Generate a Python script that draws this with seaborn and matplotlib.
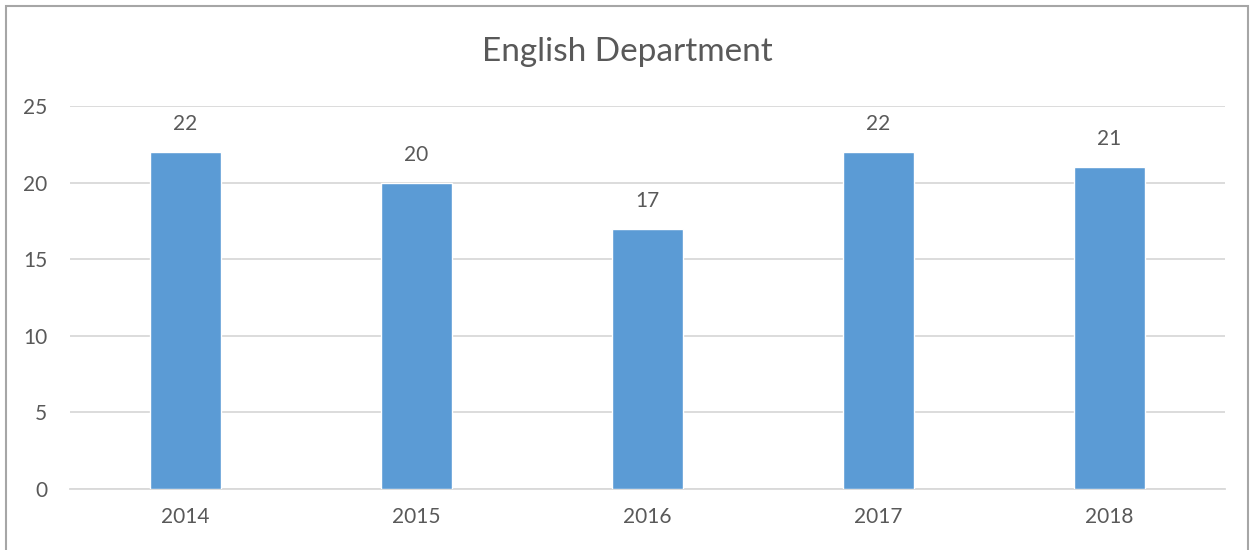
import matplotlib.pyplot as plt
import pandas as pd
import seaborn as sns
from matplotlib.patches import Rectangle

years = ["2014", "2015", "2016", "2017", "2018"]
counts = [22, 20, 17, 22, 21]
title = "English Department"

bar_color = "#5B9BD5"
text_color = "#595959"
grid_color = "#D9D9D9"

sns.set_theme(style="white")
plt.rcParams["font.family"] = ["Lato", "DejaVu Sans"]

df = pd.DataFrame({"year": years, "count": counts})

fig = plt.figure(figsize=(12.54, 5.5), dpi=100)
ax = fig.add_axes([70 / 1254, 1 - 489 / 550, (1225 - 70) / 1254, (489 - 106) / 550])

sns.barplot(data=df, x="year", y="count", color=bar_color, width=0.31,
            saturation=1, ax=ax, zorder=3)

ax.set_ylim(0, 25)
ax.set_yticks([0, 5, 10, 15, 20, 25])
ax.set_xlim(-0.5, len(years) - 0.5)
ax.yaxis.grid(True, color=grid_color, linewidth=1.3, zorder=0)
ax.set_axisbelow(True)
for side in ["top", "right", "left"]:
    ax.spines[side].set_visible(False)
ax.spines["bottom"].set_color(grid_color)
ax.spines["bottom"].set_linewidth(1.3)
ax.tick_params(axis="both", length=0, labelsize=15, labelcolor=text_color)
ax.tick_params(axis="x", pad=13)
ax.tick_params(axis="y", pad=16.5)
ax.set_xlabel("")
ax.set_ylabel("")

ax.bar_label(ax.containers[0], labels=[str(v) for v in counts], padding=13,
             fontsize=15, color=text_color)

fig.text(0.5, 1 - 61 / 550, title, ha="center", va="baseline", fontsize=24,
         color=text_color)

# chart border (bottom edge falls outside the crop)
fig.patches.append(Rectangle((6 / 1254, -0.05), (1248 - 6) / 1254, 1.05 - 6 / 550,
                             transform=fig.transFigure, fill=False,
                             edgecolor="#A6A6A6", linewidth=1.5))

fig.savefig("out.png", dpi=100)
